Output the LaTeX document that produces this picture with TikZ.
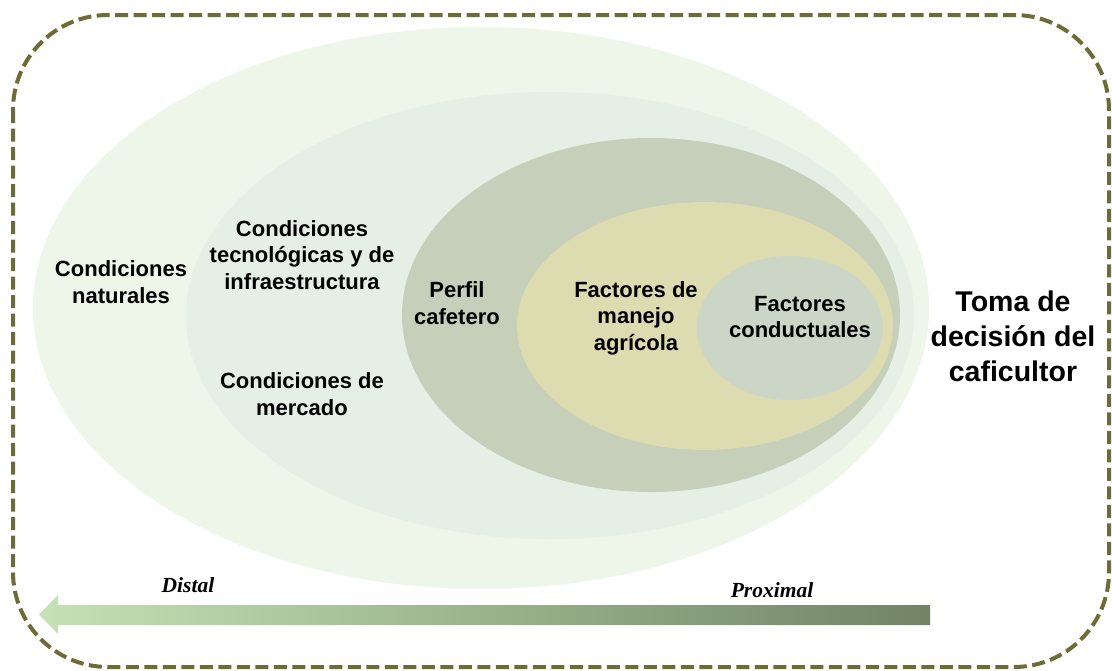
\documentclass[tikz,border=0pt]{standalone}
\usepackage{fontspec}
\setmainfont{Liberation Sans}
\newfontfamily\serifbi{Liberation Serif}
\definecolor{cOne}{HTML}{EEF5E9}
\definecolor{cTwo}{HTML}{E5EFE6}
\definecolor{cThree}{HTML}{C6CFB9}
\definecolor{cFour}{HTML}{DDDBB0}
\definecolor{cFive}{HTML}{CCD6C6}
\definecolor{cBorder}{HTML}{6D6C37}
\definecolor{cArrL}{HTML}{C4E2B5}
\definecolor{cArrR}{HTML}{728465}
\tikzset{
  lbl/.style={align=center, inner sep=0pt, font=\bfseries\fontsize{22}{26.5}\selectfont},
  biglbl/.style={align=center, inner sep=0pt, font=\bfseries\fontsize{28.5}{35}\selectfont},
  axislbl/.style={inner sep=0pt, font=\serifbi\bfseries\itshape\fontsize{21.5}{24}\selectfont},
  frame/.style={draw=cBorder, line width=4pt, dash pattern=on 13pt off 5.5pt, rounded corners=95pt}
}
\begin{document}
\begin{tikzpicture}[x=1pt,y=-1pt]
\useasboundingbox (0,0) rectangle (1112,670);
% nested ellipses
\fill[cOne] (481,308) ellipse [x radius=448, y radius=281];
\fill[cTwo] (550,315.5) ellipse [x radius=364, y radius=223.5];
\fill[cThree] (651,315) ellipse [x radius=249, y radius=177];
\fill[cFour] (705,326) ellipse [x radius=188, y radius=124];
\fill[cFive] (790,328) ellipse [x radius=93, y radius=72];
% frame
\draw[frame] (13,15) rectangle (1109,667);
% arrow
\shade[left color=cArrL, right color=cArrR]
  (930,605) -- (58,605) -- (58,595) -- (39,614.5) -- (58,634) -- (58,625) -- (930,625) -- cycle;
% labels
\node[lbl] (nat) at (121,282) {Condiciones\\naturales};
\node[lbl] (tec) at (302,255) {Condiciones\\tecnológicas y de\\infraestructura};
\node[lbl] (mer) at (302,394) {Condiciones de\\mercado};
\node[lbl] (per) at (457,303) {Perfil\\cafetero};
\node[lbl] (man) at (636,318) {Factores de\\manejo\\agrícola};
\node[lbl] (con) at (800,317) {Factores\\conductuales};
\node[biglbl] (tom) at (1013,336) {Toma de\\decisión del\\caficultor};
\node[axislbl, anchor=base] (dis) at (188,592) {Distal};
\node[axislbl, anchor=base] (pro) at (772,597) {Proximal};
\end{tikzpicture}
\end{document}
